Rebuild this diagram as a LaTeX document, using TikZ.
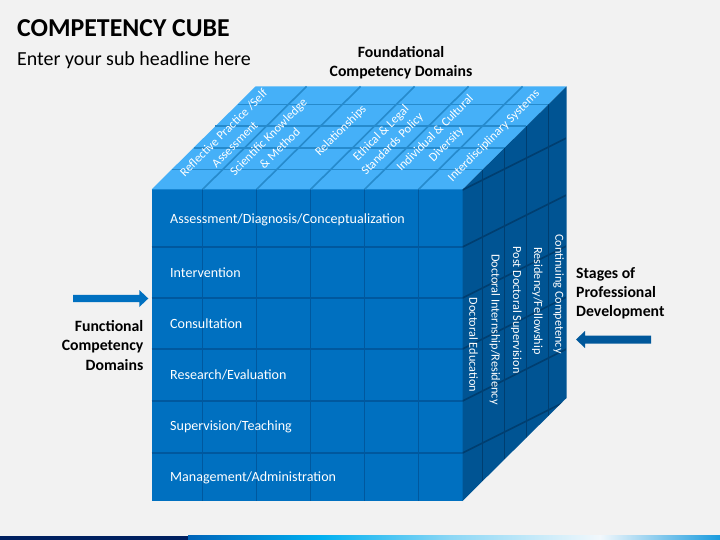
\documentclass[tikz,border=0pt]{standalone}
\usepackage{fontspec}
\setmainfont{Carlito}
\definecolor{bgc}{RGB}{242,242,242}
\definecolor{frontc}{RGB}{0,112,192}
\definecolor{frontl}{RGB}{0,88,158}
\definecolor{topc}{RGB}{69,176,248}
\definecolor{topl}{RGB}{38,138,204}
\definecolor{rightc}{RGB}{0,84,147}
\definecolor{rightl}{RGB}{0,62,112}
\definecolor{navy}{RGB}{0,32,96}
\definecolor{arrowr}{RGB}{0,88,155}
\definecolor{sA}{RGB}{0,100,185}
\definecolor{sB}{RGB}{0,176,240}
\definecolor{sC}{RGB}{140,215,245}
\definecolor{sD}{RGB}{242,248,252}
\definecolor{sE}{RGB}{25,155,222}
\tikzset{
  gridf/.style={draw=frontl, line width=1.6bp},
  gridt/.style={draw=topl, line width=1.6bp},
  gridr/.style={draw=rightl, line width=1.6bp},
  rowlabel/.style={anchor=west, text=white, font=\fontsize{14.1}{16}\selectfont, inner sep=0pt},
  toplabel/.style={rotate=45, text=white, align=center, font=\fontsize{12.4}{16}\selectfont, inner sep=0pt},
  sidelabel/.style={rotate=-90, text=white, font=\fontsize{12.3}{15}\selectfont, inner sep=0pt},
  heading/.style={font=\bfseries\fontsize{15.8}{19.3}\selectfont, inner sep=0pt}
}
\begin{document}
\begin{tikzpicture}[x=1bp,y=-1bp]
\useasboundingbox (0,0) rectangle (720,540);
\fill[bgc] (0,0) rectangle (720,540);
% bottom strip
\fill[navy] (0,535.5) rectangle (188,540);
\shade[left color=sA, right color=sB] (188,535.5) rectangle (320.5,540);
\shade[left color=sB, right color=sC] (320,535.5) rectangle (450.5,540);
\shade[left color=sC, right color=sD] (450,535.5) rectangle (600.5,540);
\shade[left color=sD, right color=sE] (600,535.5) rectangle (720,540);
% titles
\node[anchor=base west, inner sep=0pt, font=\bfseries\fontsize{25.9}{30}\selectfont] (title) at (17,36.7) {COMPETENCY CUBE};
\node[anchor=base west, inner sep=0pt, font=\fontsize{20}{24}\selectfont] (sub) at (17,65.7) {Enter your sub headline here};
% cube geometry
\def\fl{151.5}\def\fr{462.5}\def\ft{189.5}\def\fb{501}\def\dx{104}\def\dy{103}
\coordinate (A) at (\fl,\ft);
\coordinate (B) at (\fr,\ft);
\coordinate (C) at (\fr,\fb);
\coordinate (D) at (\fl,\fb);
\coordinate (E) at (\fl+\dx,\ft-\dy);
\coordinate (F) at (\fr+\dx,\ft-\dy);
\coordinate (G) at (\fr+\dx,\fb-\dy);
\fill[frontc] (A) rectangle (C);
\fill[topc] (A) -- (B) -- (F) -- (E) -- cycle;
\fill[rightc] (B) -- (F) -- (G) -- (C) -- cycle;
% front grid
\foreach \x in {202.5,256.5,310.5,364.5,418.5} \draw[gridf] (\x,\ft) -- (\x,\fb);
\foreach \y in {247,298,349,401,453} \draw[gridf] (\fl,\y) -- (\fr,\y);
% top grid
\foreach \x in {202.5,256.5,310.5,364.5,418.5} \draw[gridt] (\x,\ft) -- (\x+\dx,\ft-\dy);
\foreach \f in {0.193,0.405,0.615,0.827} \draw[gridt] (\fl+\f*\dx,\ft-\f*\dy) -- (\fr+\f*\dx,\ft-\f*\dy);
% right grid
\begin{scope}
\clip (B) -- (F) -- (G) -- (C) -- cycle;
\foreach \f in {0.193,0.405,0.615,0.827} \draw[gridr] (\fr+\f*\dx,\ft-\f*\dy) -- (\fr+\f*\dx,\fb-\f*\dy);
\foreach \y in {190,247,298,349,401,453} \draw[gridr] (\fr,\y) -- (\fr+\dx,\y-52);
\end{scope}
% front labels
\node[rowlabel] (r1) at (170,219.5) {Assessment/Diagnosis/Conceptualization};
\node[rowlabel] (r2) at (170,272.5) {Intervention};
\node[rowlabel] (r3) at (170,323.5) {Consultation};
\node[rowlabel] (r4) at (170,375) {Research/Evaluation};
\node[rowlabel] (r5) at (170,426.5) {Supervision/Teaching};
\node[rowlabel] (r6) at (170,477.5) {Management/Administration};
% top labels
\node[toplabel] (t1) at (229,138.5) {Reflective Practice /Self\\Assessment};
\node[toplabel] (t2) at (274,142.5) {Scientific Knowledge\\\& Method};
\node[toplabel] (t3) at (341,131) {Relationships};
\node[toplabel] (t4) at (387,139) {Ethical \& Legal\\Standards Policy};
\node[toplabel] (t5) at (441,139) {Individual \& Cultural\\Diversity};
\node[toplabel] (t6) at (494,136) {Interdisciplinary Systems};
% side labels
\node[sidelabel] (s1) at (473.5,345) {Doctoral Education};
\node[sidelabel] (s2) at (495,329.5) {Doctoral Internship/Residency};
\node[sidelabel] (s3) at (516.5,310) {Post Doctoral Supervision};
\node[sidelabel] (s4) at (537.5,301) {Residency/Fellowship};
\node[sidelabel] (s5) at (558.5,294) {Continuing Competency};
% headings
\node[heading, align=center] (h1) at (401,62.5) {Foundational\\Competency Domains};
\node[heading, align=right, anchor=east] (h2) at (143.5,345.5) {Functional\\Competency\\Domains};
\node[heading, align=left, anchor=west] (h3) at (576,293) {Stages of\\Professional\\Development};
% arrows
\fill[frontc] (73,294.8) -- (139.3,294.8) -- (139.3,290) -- (148.3,298.5) -- (139.3,307) -- (139.3,302.2) -- (73,302.2) -- cycle;
\fill[arrowr] (651,335.5) -- (585,335.5) -- (585,331) -- (576,339.5) -- (585,348) -- (585,343.5) -- (651,343.5) -- cycle;
\end{tikzpicture}
\end{document}
